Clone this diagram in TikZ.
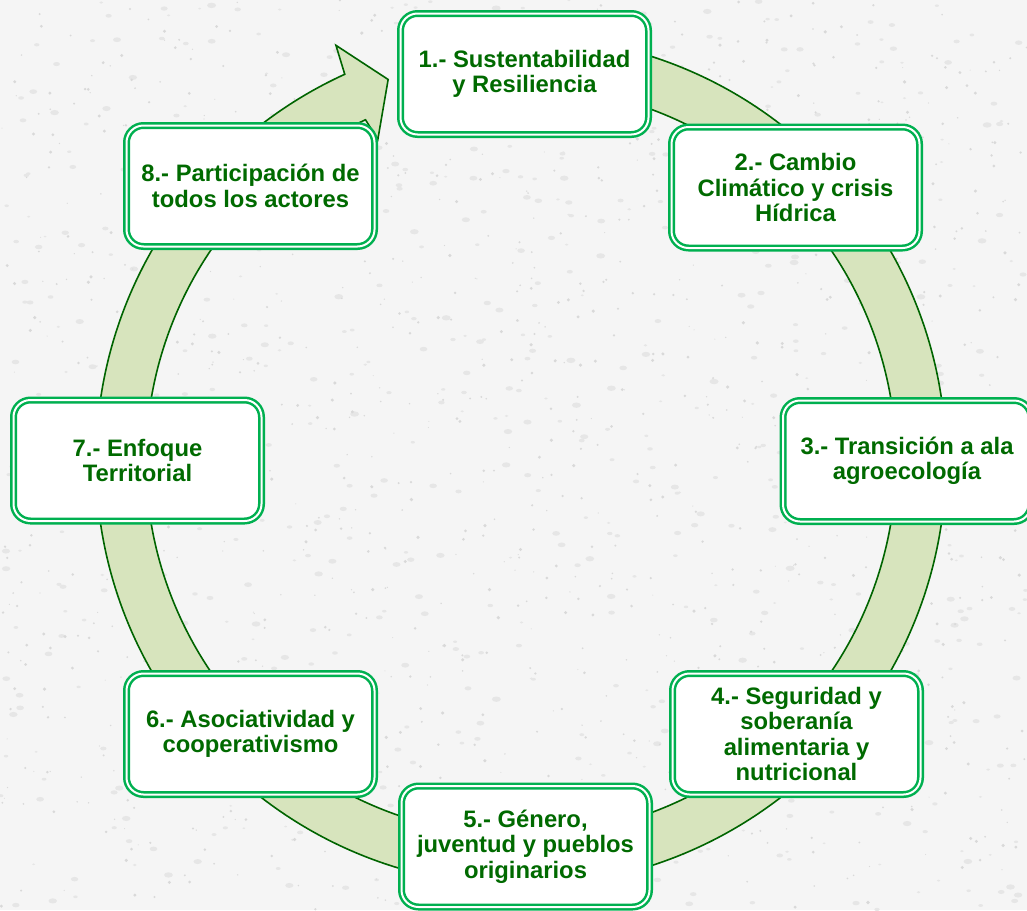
\documentclass[tikz,border=0pt]{standalone}
\usepackage{fontspec}
\setmainfont{Liberation Sans}
\definecolor{txtgreen}{HTML}{006A00}
\definecolor{boxgreen}{HTML}{00B050}
\definecolor{bandfill}{HTML}{D7E4BD}
\definecolor{bandline}{HTML}{006400}
\definecolor{bgcol}{HTML}{F5F5F5}
\definecolor{speck}{HTML}{D9D9D9}
\definecolor{speckb}{HTML}{E6E6E6}
\tikzset{
  cyclebox/.style={draw=boxgreen, double=white, double distance=2pt, line width=2.5pt,
    fill=white, rounded corners=17pt, minimum width=248pt, minimum height=121pt,
    inner sep=0pt, align=center, text=txtgreen,
    font=\bfseries\fontsize{23.8}{25.5}\selectfont},
  bandstyle/.style={draw=bandline, line width=1.6pt, fill=bandfill, line join=miter}
}
\begin{document}
\begin{tikzpicture}[x=1pt,y=1pt]
\fill[bgcol] (0,0) rectangle (1027,-910);
\useasboundingbox (0,0) rectangle (1027,-910);
\pgfmathsetseed{11}
\foreach \i in {1,...,700}{
  \pgfmathsetmacro\xx{rnd*1027}
  \pgfmathsetmacro\yy{-rnd*910}
  \pgfmathsetmacro\ss{1.5+rnd*3}
  \fill[speckb] (\xx,\yy) ellipse ({\ss} and {0.6*\ss});
}
\foreach \i in {1,...,1100}{
  \pgfmathsetmacro\xx{rnd*1027}
  \pgfmathsetmacro\yy{-rnd*910}
  \pgfmathsetmacro\ss{0.5+rnd*1.3}
  \fill[speck] (\xx,\yy) circle (\ss);
}
\coordinate (C) at (521,-461);
\draw[bandstyle] ([shift={(85:425)}]C) arc[start angle=85, end angle=-245.5, radius=425]
  -- ([shift={(-246:455)}]C) -- ([shift={(-250.8:404)}]C) -- ([shift={(-246:352)}]C)
  -- ([shift={(-245.5:375)}]C) arc[start angle=-245.5, end angle=85, radius=375] -- cycle;
\node[cyclebox] (b1) at (524.5,-74) {1.- Sustentabilidad\\y Resiliencia};
\node[cyclebox] (b2) at (795.5,-187.5) {2.- Cambio\\Climático y crisis\\Hídrica};
\node[cyclebox] (b3) at (907,-461) {3.- Transición a ala\\agroecología};
\node[cyclebox] (b4) at (796.5,-734) {4.- Seguridad y\\soberanía\\alimentaria y\\nutricional};
\node[cyclebox] (b5) at (525.5,-846.5) {5.- Género,\\juventud y pueblos\\originarios};
\node[cyclebox] (b6) at (250.5,-734) {6.- Asociatividad y\\cooperativismo};
\node[cyclebox] (b7) at (137.5,-460.5) {7.- Enfoque\\Territorial};
\node[cyclebox] (b8) at (250.5,-186) {8.- Participación de\\todos los actores};
\end{tikzpicture}
\end{document}
